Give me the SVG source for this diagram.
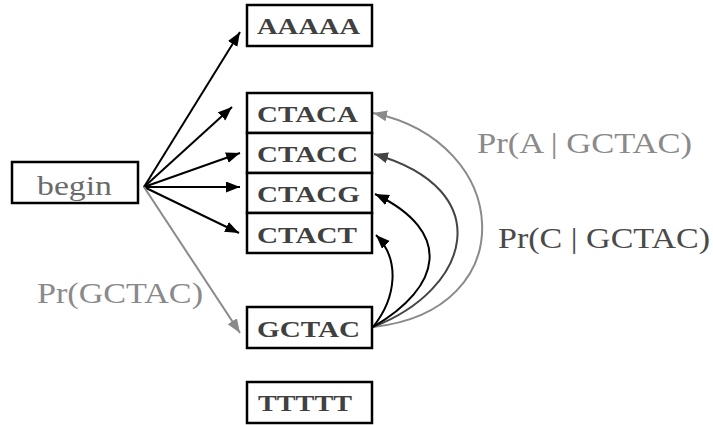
<svg xmlns="http://www.w3.org/2000/svg" width="713" height="425" viewBox="0 0 713 425">
  <style>
    .box { fill: #fff; stroke: #000; stroke-width: 2.5; }
    .seq { font-family: "Liberation Serif", "Times New Roman", serif; font-weight: bold; font-size: 24px; fill: #404040; }
    .lbl { font-family: "Liberation Serif", "Times New Roman", serif; font-size: 30px; }
    .edge { fill: none; stroke-width: 2; }
    .k { stroke: #000; }
    .g { stroke: #8a8a8a; }
    .d { stroke: #444; }
  </style>
  <defs>
    <marker id="ahK" markerUnits="userSpaceOnUse" markerWidth="15" markerHeight="12" refX="14" refY="5.5" orient="auto">
      <path d="M0,0 L14,5.5 L0,11 z" fill="#000"/>
    </marker>
    <marker id="ahG" markerUnits="userSpaceOnUse" markerWidth="15" markerHeight="12" refX="14" refY="5.5" orient="auto">
      <path d="M0,0 L14,5.5 L0,11 z" fill="#8a8a8a"/>
    </marker>
    <marker id="ahD" markerUnits="userSpaceOnUse" markerWidth="15" markerHeight="12" refX="14" refY="5.5" orient="auto">
      <path d="M0,0 L14,5.5 L0,11 z" fill="#444"/>
    </marker>
  </defs>
  <rect width="713" height="425" fill="#fff"/>

  <!-- connectors -->
  <g id="connectors">
    <line class="edge k" x1="144" y1="187" x2="240" y2="32" marker-end="url(#ahK)"/>
    <line class="edge k" x1="144" y1="187" x2="232" y2="107" marker-end="url(#ahK)"/>
    <line class="edge k" x1="144" y1="187" x2="240" y2="153" marker-end="url(#ahK)"/>
    <line class="edge k" x1="144" y1="187" x2="240" y2="187" marker-end="url(#ahK)"/>
    <line class="edge k" x1="144" y1="187" x2="239" y2="233" marker-end="url(#ahK)"/>
    <line class="edge g" x1="144" y1="187" x2="240" y2="333" marker-end="url(#ahG)"/>
    <!-- transitions out of GCTAC -->
    <path class="edge g" d="M373,327 C524,311 513,142 373,113" marker-end="url(#ahG)"/>
    <path class="edge d" d="M373,327 C470,290 500,190 374,154" marker-end="url(#ahD)"/>
    <path class="edge k" d="M373,327 C442,287 454,232 375,194" marker-end="url(#ahK)"/>
    <path class="edge k" d="M373,327 C397,297 400,259 376,235" marker-end="url(#ahK)"/>
  </g>

  <g id="begin">
    <rect class="box" x="12" y="162" width="126" height="41"/>
    <text x="37" y="195" font-family="Liberation Serif, serif" font-size="28" fill="#6a6a6a" textLength="75" lengthAdjust="spacingAndGlyphs">begin</text>
  </g>

  <g id="AAAAA">
    <rect class="box" x="247" y="5" width="125" height="41"/>
    <text class="seq" x="257" y="34" textLength="103" lengthAdjust="spacingAndGlyphs">AAAAA</text>
  </g>
  <g id="CTACA">
    <rect class="box" x="247" y="93" width="125" height="40"/>
    <text class="seq" x="257" y="122" textLength="101" lengthAdjust="spacingAndGlyphs">CTACA</text>
  </g>
  <g id="CTACC">
    <rect class="box" x="247" y="133" width="125" height="40"/>
    <text class="seq" x="257" y="162" textLength="101" lengthAdjust="spacingAndGlyphs">CTACC</text>
  </g>
  <g id="CTACG">
    <rect class="box" x="247" y="173" width="125" height="40"/>
    <text class="seq" x="257" y="202" textLength="103" lengthAdjust="spacingAndGlyphs">CTACG</text>
  </g>
  <g id="CTACT">
    <rect class="box" x="247" y="213" width="125" height="40"/>
    <text class="seq" x="257" y="243" textLength="100" lengthAdjust="spacingAndGlyphs">CTACT</text>
  </g>
  <g id="GCTAC">
    <rect class="box" x="247" y="307" width="125" height="41"/>
    <text class="seq" x="257" y="337" textLength="103" lengthAdjust="spacingAndGlyphs">GCTAC</text>
  </g>
  <g id="TTTTT">
    <rect class="box" x="247" y="382" width="125" height="41"/>
    <text class="seq" x="258" y="411" textLength="94" lengthAdjust="spacingAndGlyphs">TTTTT</text>
  </g>

  <!-- probability labels -->
  <g id="labels">
    <text class="lbl" x="37" y="303" fill="#8a8a8a" textLength="166" lengthAdjust="spacingAndGlyphs">Pr(GCTAC)</text>
    <text class="lbl" x="477" y="153" fill="#8a8a8a" textLength="215" lengthAdjust="spacingAndGlyphs">Pr(A | GCTAC)</text>
    <text class="lbl" x="498" y="248" fill="#4a4a4a" textLength="212" lengthAdjust="spacingAndGlyphs">Pr(C | GCTAC)</text>
  </g>
</svg>
